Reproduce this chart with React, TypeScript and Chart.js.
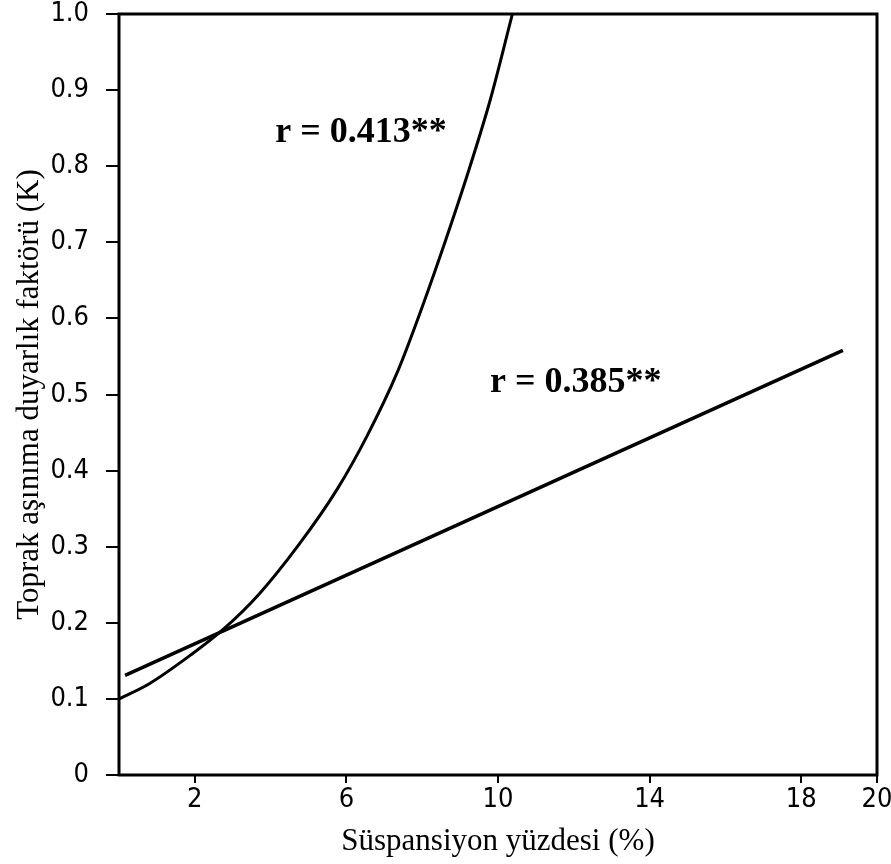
import React, { useEffect, useRef } from "react";
import { Chart, registerables } from "chart.js";

Chart.register(...registerables);

// ---- data ----
const xTickValues = [2, 6, 10, 14, 18, 20];
const yMin = 0;
const yMax = 1.0;
const yStep = 0.1;

// exponential-looking curve (r = 0.413**)
const curveX = [0, 0.8, 1.9, 2.74, 3.7, 4.75, 5.75, 6.55, 7.35, 8.0, 8.6, 9.2, 9.8, 10.38];
const curveY = [0.1, 0.12, 0.158, 0.191, 0.238, 0.303, 0.375, 0.446, 0.53, 0.615, 0.7, 0.79, 0.888, 1.0];

// straight line (r = 0.385**)
const lineX = [0.16, 19.1];
const lineY = [0.131, 0.558];

// r annotations
const labelTexts = ["r = 0.413**", "r = 0.385**"];
const labelX = [4.12, 9.79];
const labelY = [0.844, 0.515];

const xTitle = "Süspansiyon yüzdesi (%)";
const yTitle = "Toprak aşınıma duyarlık faktörü (K)";

const tickFont = { family: "'DejaVu Sans Condensed', 'DejaVu Sans', sans-serif", size: 27 };
const serif = "'Liberation Serif', 'Times New Roman', serif";

const boxPlugin = {
  id: "boxPlugin",
  afterDraw(chart: any) {
    const { ctx, chartArea } = chart;
    ctx.save();
    ctx.strokeStyle = "#000";
    ctx.lineWidth = 3;
    ctx.strokeRect(chartArea.left, chartArea.top, chartArea.right - chartArea.left, chartArea.bottom - chartArea.top);
    ctx.restore();
  },
};

const labelPlugin = {
  id: "labelPlugin",
  afterDatasetsDraw(chart: any) {
    const { ctx, scales } = chart;
    ctx.save();
    ctx.fillStyle = "#000";
    ctx.font = `bold 36px ${serif}`;
    ctx.textAlign = "left";
    ctx.textBaseline = "middle";
    labelTexts.forEach((t, i) => {
      ctx.fillText(t, scales.x.getPixelForValue(labelX[i]), scales.y.getPixelForValue(labelY[i]));
    });
    ctx.restore();
  },
};

export default function App() {
  const ref = useRef<HTMLCanvasElement | null>(null);

  useEffect(() => {
    if (!ref.current) return;
    const chart = new Chart(ref.current, {
      type: "line",
      data: {
        datasets: [
          {
            label: "r = 0.413",
            data: curveX.map((x, i) => ({ x, y: curveY[i] })),
            borderColor: "#000",
            borderWidth: 3,
            pointRadius: 0,
            cubicInterpolationMode: "monotone",
            fill: false,
          },
          {
            label: "r = 0.385",
            data: lineX.map((x, i) => ({ x, y: lineY[i] })),
            borderColor: "#000",
            borderWidth: 3.5,
            pointRadius: 0,
            tension: 0,
            fill: false,
          },
        ],
      },
      options: {
        responsive: false,
        animation: false,
        layout: { padding: { top: 14, right: 14, left: 0, bottom: 0 } },
        plugins: { legend: { display: false }, tooltip: { enabled: false } },
        scales: {
          x: {
            type: "linear",
            min: 0,
            max: 20,
            afterBuildTicks: (s: any) => {
              s.ticks = xTickValues.map((v) => ({ value: v }));
            },
            afterFit: (s: any) => {
              s.height = 89;
              s.paddingLeft = 0;
              s.paddingRight = 0;
            },
            grid: { display: true, drawOnChartArea: false, drawTicks: true, tickLength: 8, color: "#000", lineWidth: 2 },
            border: { display: false },
            ticks: { color: "#000", font: tickFont, padding: 1, maxRotation: 0, autoSkip: false },
            title: { display: true, text: xTitle, color: "#000", font: { family: serif, size: 31 }, padding: { top: 0, bottom: 4 } },
          },
          y: {
            type: "linear",
            min: yMin,
            max: yMax,
            ticks: {
              stepSize: yStep,
              color: "#000",
              font: tickFont,
              padding: 17,
              callback: (v: any) => (Number(v) === 0 ? "0" : Number(v).toFixed(1)),
            },
            afterFit: (s: any) => {
              s.width = 119;
              s.paddingTop = 0;
              s.paddingBottom = 0;
            },
            grid: { display: true, drawOnChartArea: false, drawTicks: true, tickLength: 13, color: "#000", lineWidth: 2 },
            border: { display: false },
            title: { display: true, text: yTitle, color: "#000", font: { family: serif, size: 31 }, padding: { top: 11, bottom: 0 } },
          },
        },
      },
      plugins: [boxPlugin, labelPlugin],
    });
    return () => chart.destroy();
  }, []);

  return (
    <div style={{ position: "fixed", left: 0, top: 0, width: 891, height: 864, background: "#fff" }}>
      <canvas ref={ref} width={891} height={864} style={{ display: "block" }} />
    </div>
  );
}
